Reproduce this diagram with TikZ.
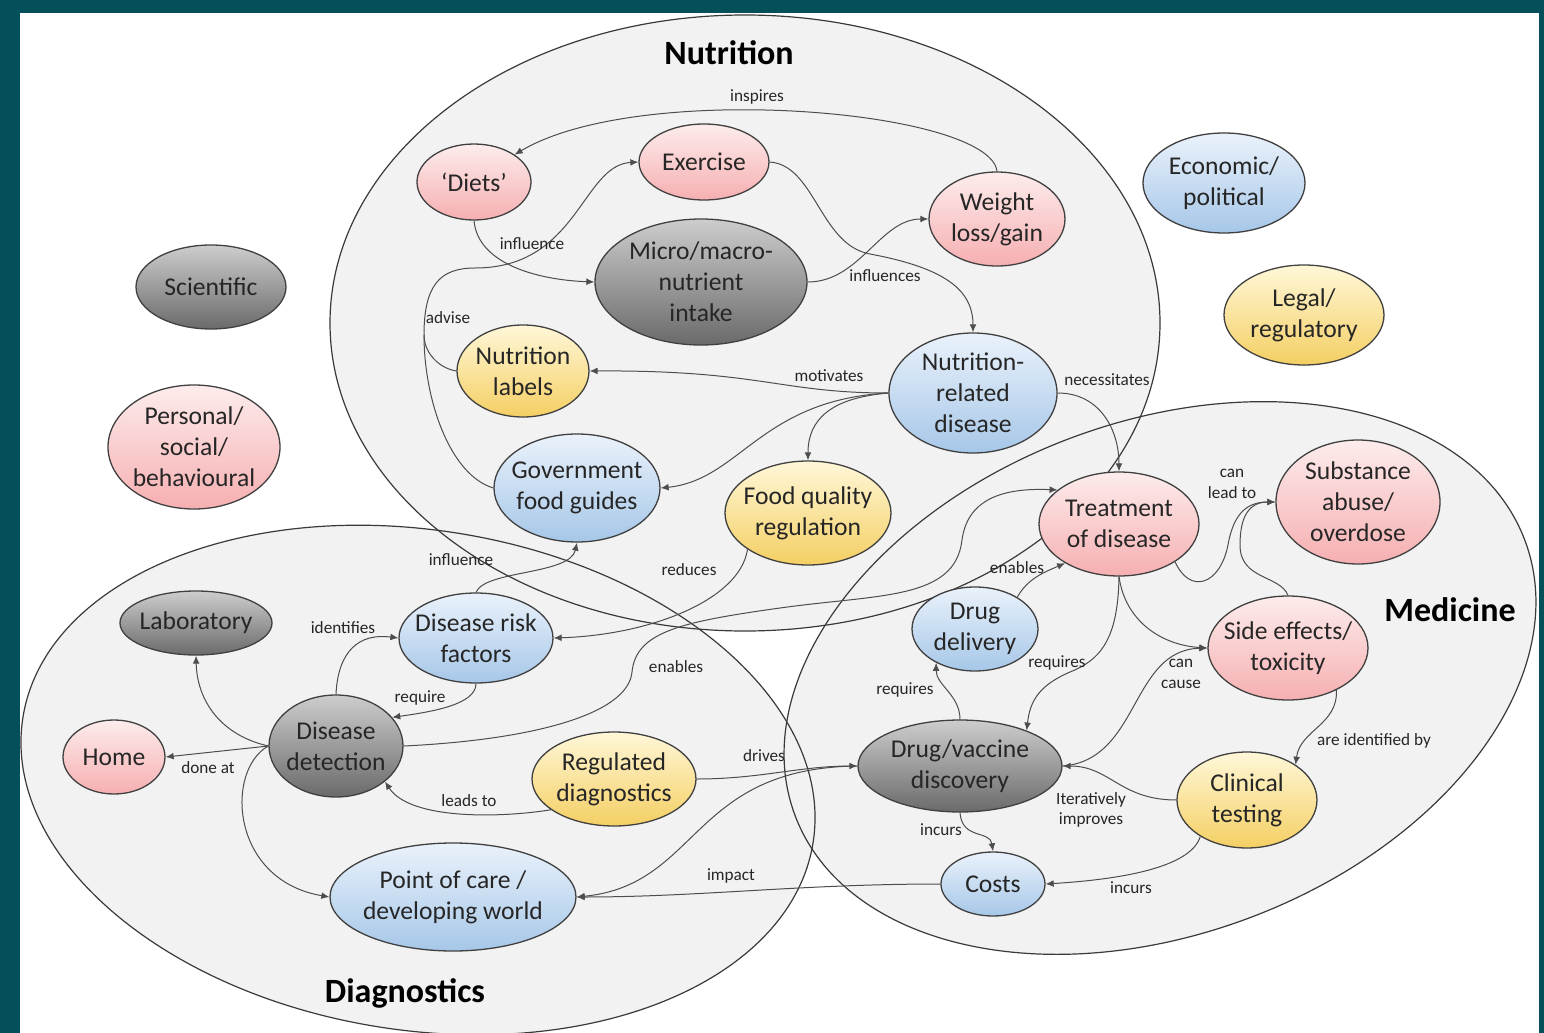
\documentclass[tikz,border=0pt]{standalone}
\usepackage{fontspec}
\setmainfont{Carlito}
\usetikzlibrary{arrows.meta,shapes.geometric}

\definecolor{frameteal}{HTML}{03505B}
\definecolor{areagray}{HTML}{F2F2F2}
\definecolor{arealine}{HTML}{3A3A3A}
\definecolor{bubline}{HTML}{404040}
\definecolor{linkgray}{HTML}{4D4D4D}
\definecolor{inkgray}{HTML}{262626}
\definecolor{pinktop}{HTML}{FDECEC}
\definecolor{pinkbot}{HTML}{F6AFB1}
\definecolor{bluetop}{HTML}{EAF2FB}
\definecolor{bluebot}{HTML}{A6C7E8}
\definecolor{yellowtop}{HTML}{FFF7D8}
\definecolor{yellowbot}{HTML}{F4CF63}
\definecolor{greytop}{HTML}{CDCDCD}
\definecolor{greybot}{HTML}{6A6A6A}

\tikzset{
  bubble/.style={ellipse, draw=bubline, line width=0.65pt, inner sep=0pt},
  pinkbub/.style={bubble, top color=pinktop, bottom color=pinkbot},
  bluebub/.style={bubble, top color=bluetop, bottom color=bluebot},
  yellowbub/.style={bubble, top color=yellowtop, bottom color=yellowbot},
  greybub/.style={bubble, top color=greytop, bottom color=greybot},
  txt/.style={font=\fontsize{12.8}{15.5}\selectfont, text=inkgray, align=center},
  lbl/.style={font=\fontsize{8.6}{10.2}\selectfont, text=inkgray, align=center},
  heading/.style={font=\fontsize{17}{20}\selectfont\bfseries, text=black},
  link/.style={draw=linkgray, line width=0.5pt, -{Latex[length=4pt,width=3.4pt]}},
  area/.style={draw=arealine, line width=0.6pt}
}

\begin{document}
\begin{tikzpicture}[x=0.5pt,y=-0.5pt]
    \useasboundingbox (0,0) rectangle (1544,1033);
    \fill[frameteal] (0,0) rectangle (1544,1033);
    \fill[white] (20,13) rectangle (1539,1033);

    % the three fields
    \fill[areagray] (745,323) ellipse [x radius=415, y radius=308];
    \fill[areagray, rotate around={-9:(418,780)}] (418,780) ellipse [x radius=400, y radius=250];
    \fill[areagray, rotate around={20.7:(1160,678)}] (1160,678) ellipse [x radius=390, y radius=256];
    \draw[area] (745,323) ellipse [x radius=415, y radius=308];
    \draw[area, rotate around={-9:(418,780)}] (418,780) ellipse [x radius=400, y radius=250];
    \draw[area, rotate around={20.7:(1160,678)}] (1160,678) ellipse [x radius=390, y radius=256];

    \node[heading] (nutritiontitle) at (729,53) {Nutrition};
    \node[heading] (diagtitle) at (405,993) {Diagnostics};
    \node[heading] (medtitle) at (1450,610) {Medicine};

    \foreach \nm/\px/\py/\w/\h/\sty/\txt in {
        diets/474/182/57/38/pinkbub/{‘Diets’},
        exercise/704/162/65/38/pinkbub/{Exercise},
        weight/997/219/68/47/pinkbub/{Weight\\loss/gain},
        micro/701/282/106/63/greybub/{Micro/macro-\\nutrient\\intake},
        nutlabels/523/371/66/46/yellowbub/{Nutrition\\labels},
        nrd/973/393/84/60/bluebub/{Nutrition-\\related\\disease},
        govguides/577/488/83/54/bluebub/{Government\\food guides},
        foodqual/808/513/83/52/yellowbub/{Food quality\\regulation},
        econ/1224/183/81/50/bluebub/{Economic/\\political},
        legal/1304/315/80/50/yellowbub/{Legal/\\regulatory},
        scientific/211/287/75/42/greybub/{Scientific},
        personal/194/447/86/62/pinkbub/{Personal/\\social/\\behavioural},
        laboratory/196/623/76/32/greybub/{Laboratory},
        home/114/757/51/37/pinkbub/{Home},
        detection/336/746/67/51/greybub/{Disease\\detection},
        riskfactors/476/638/77/45/bluebub/{Disease risk\\factors},
        regdiag/614/779/82/47/yellowbub/{Regulated\\diagnostics},
        poc/453/897/123/54/bluebub/{Point of care /\\developing world},
        treatment/1119/524/80/52/pinkbub/{Treatment\\of disease},
        substance/1358/502/82/62/pinkbub/{Substance\\abuse/\\overdose},
        sideeffects/1288/648/80/52/pinkbub/{Side effects/\\toxicity},
        drugdelivery/975/629/63/42/bluebub/{Drug\\delivery},
        discovery/960/766/102/46/greybub/{Drug/vaccine\\discovery},
        clinical/1247/800/70/48/yellowbub/{Clinical\\testing},
        costs/993/884/52/32/bluebub/{Costs}}
        \node[\sty, minimum width=\w pt, minimum height=\h pt,
              label={[txt]center:\txt}] (\nm) at (\px,\py) {};

    % nutrition
    \draw[link] (weight.north) .. controls (990,110) and (640,80) .. (diets.34);
    \draw[link] (diets.south) .. controls (478,265) and (540,280) .. (micro.west);
    \coordinate (advisejoin) at (424,335);
    \draw[link] (nutlabels.west) .. controls (438,368) and (424,352) .. (advisejoin)
        .. controls (424,285) and (440,268) .. (475,268)
        .. controls (578,268) and (582,165) .. (exercise.west);
    \draw[link,-] (govguides.west) .. controls (450,475) and (424,400) .. (advisejoin);
    \draw[link] (exercise.east) .. controls (815,165) and (820,245) .. (870,254)
        .. controls (945,268) and (973,290) .. (nrd.north);
    \draw[link] (micro.east) .. controls (860,282) and (880,219) .. (weight.west);
    \draw[link] (nrd.west) .. controls (780,393) and (760,370) .. (nutlabels.east);
    \draw[link] (nrd.west) .. controls (760,400) and (740,480) .. (govguides.east);
    \draw[link] (nrd.west) .. controls (830,398) and (808,420) .. (foodqual.north);
    \draw[link] (nrd.east) .. controls (1100,393) and (1119,430) .. (treatment.north);
    \draw[link] (foodqual.211) .. controls (740,600) and (650,635) .. (riskfactors.east);
    \draw[link] (riskfactors.north) .. controls (485,570) and (570,575) .. (govguides.south);

    % diagnostics
    \draw[link] (detection.west) .. controls (220,735) and (197,700) .. (laboratory.south);
    \draw[link] (detection.west) -- (home.east);
    \draw[link] (detection.west) .. controls (225,770) and (230,880) .. (poc.west);
    \draw[link] (detection.north) .. controls (338,650) and (360,633) .. (riskfactors.west);
    \draw[link] (riskfactors.south) .. controls (476,705) and (430,712) .. (detection.27);
    \draw[link] (regdiag.206) .. controls (500,818) and (410,820) .. (detection.324);
    \draw[link] (regdiag.east) .. controls (760,779) and (800,766) .. (discovery.west);
    \draw[link] (discovery.west) .. controls (690,768) and (700,885) .. (poc.east);
    \draw[link] (costs.west) .. controls (800,884) and (700,897) .. (poc.east);
    \draw[link] (detection.east) .. controls (530,740) and (628,715) .. (632,672)
        .. controls (636,632) and (680,622) .. (780,608)
        .. controls (880,594) and (955,600) .. (962,540)
        .. controls (968,495) and (1010,488) .. (treatment.151);

    % medicine
    \draw[link] (treatment.326) .. controls (1190,595) and (1220,585) .. (1228,545)
        .. controls (1234,510) and (1250,502) .. (substance.west);
    \draw[link] (sideeffects.north) .. controls (1280,575) and (1240,580) .. (1240,545)
        .. controls (1240,515) and (1250,502) .. (substance.west);
    \draw[link] (treatment.south) .. controls (1125,620) and (1160,645) .. (sideeffects.west);
    \draw[link] (discovery.east) .. controls (1140,760) and (1130,650) .. (sideeffects.west);
    \draw[link] (treatment.south) .. controls (1118,640) and (1100,660) .. (1070,672)
        .. controls (1040,685) and (1030,700) .. (discovery.28);
    \draw[link] (discovery.north) .. controls (960,695) and (936,685) .. (drugdelivery.221);
    \draw[link] (drugdelivery.37) .. controls (1028,578) and (1045,572) .. (treatment.216);
    \draw[link] (discovery.south) .. controls (962,840) and (990,830) .. (costs.north);
    \draw[link] (clinical.west) .. controls (1120,800) and (1110,766) .. (discovery.east);
    \draw[link] (clinical.218) .. controls (1190,870) and (1110,880) .. (costs.east);
    \draw[link] (sideeffects.319) .. controls (1338,725) and (1300,730) .. (clinical.36);

    \foreach \px/\py/\txt [count=\i] in {
        757/97/inspires, 532/244/influence, 448/318/advise, 885/276/influences,
        829/376/motivates, 1107/380/necessitates, 689/570/reduces, 461/560/influence,
        343/628/identifies, 420/698/require, 208/768/done at, 469/801/leads to,
        764/756/drives, 676/667/enables, 731/876/impact, 1232/484/{can\\lead to},
        1181/674/{can\\cause}, 1057/663/requires, 905/690/requires, 1017/568/enables,
        941/830/incurs, 1091/810/{Iteratively\\improves}, 1131/888/incurs,
        1374/741/are identified by}
        \node[lbl] (lab\i) at (\px,\py) {\txt};
\end{tikzpicture}
\end{document}
